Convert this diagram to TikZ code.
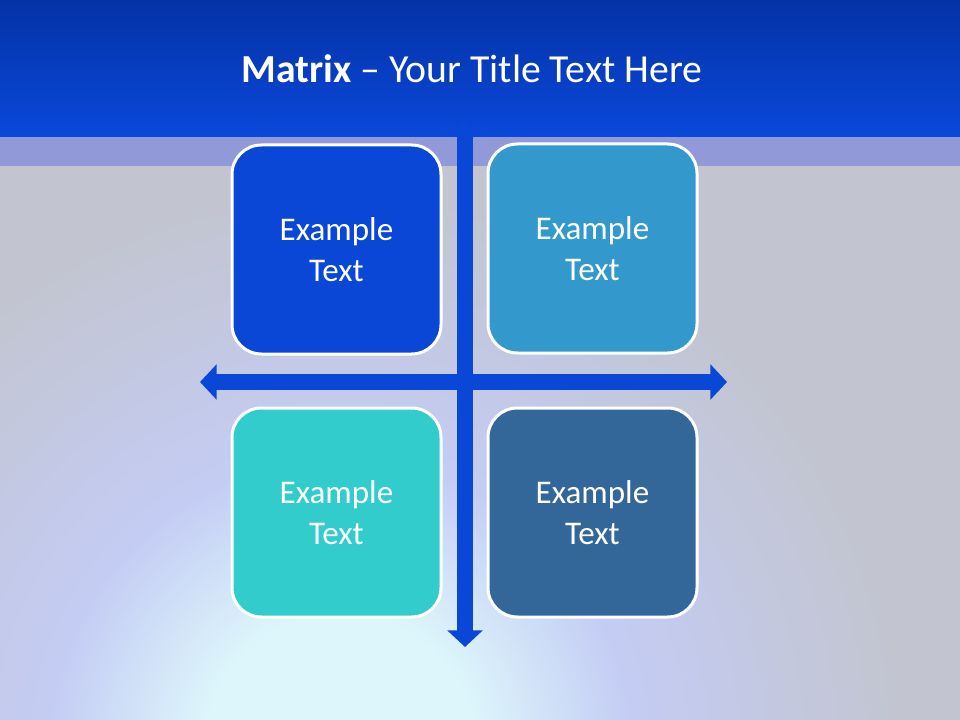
\documentclass[tikz,border=0pt]{standalone}
\usepackage{fontspec}
\setmainfont{Carlito}
\usetikzlibrary{arrows.meta}
\definecolor{hdtop}{HTML}{0432A6}
\definecolor{hdbot}{HTML}{0A48DA}
\definecolor{band}{HTML}{9199D9}
\definecolor{bggray}{HTML}{C2C5D0}
\definecolor{glowblue}{HTML}{C4CCF4}
\definecolor{glowcyan}{HTML}{DDF6FB}
\definecolor{arrowblue}{HTML}{0A47D6}
\definecolor{cTL}{HTML}{0A47D6}
\definecolor{cTR}{HTML}{3399CC}
\definecolor{cBL}{HTML}{33CCCC}
\definecolor{cBR}{HTML}{336699}
\pgfdeclareradialshading{glow}{\pgfpoint{0bp}{0bp}}{%
  color(0bp)=(glowcyan); color(6bp)=(glowcyan);
  color(13bp)=(glowblue); color(25bp)=(bggray); color(50bp)=(bggray)}
\tikzset{
  cell/.style={draw=white, line width=2.25pt, rounded corners=22pt,
    minimum width=156.75pt, minimum height=156.75pt, inner sep=0pt,
    text=white, font=\fontsize{24.8}{30.5}\selectfont, align=center},
  axis/.style={draw=arrowblue, line width=12pt,
    {Triangle[width=26pt,length=12.5pt]}-{Triangle[width=26pt,length=12.5pt]}}
}
\begin{document}
\begin{tikzpicture}[x=0.75pt,y=-0.75pt]
\useasboundingbox (0,0) rectangle (960,720);
% background
\fill[bggray] (0,0) rectangle (960,720);
\begin{scope}
\clip (0,166) rectangle (960,720);
\shade[shading=glow] (340,750) circle (560);
\end{scope}
% header
\shade[top color=hdtop, bottom color=hdbot] (0,0) rectangle (960,137);
\fill[band] (0,137) rectangle (960,166);
% title
\node[text=white, font=\fontsize{29.8}{36}\selectfont, anchor=base] (title) at (472,83)
  {\textbf{Matrix} – Your Title Text Here};
% axes
\coordinate (vt) at (465,120);
\coordinate (vb) at (465,647);
\coordinate (hl) at (200,382);
\coordinate (hr) at (727,382);
\draw[axis] (vt) -- (vb);
\draw[axis] (hl) -- (hr);
% cells
\node[cell, fill=cTL] (tl) at (336.5,249.5) {Example\\Text};
\node[cell, fill=cTR] (tr) at (592.5,248.5) {Example\\Text};
\node[cell, fill=cBL] (bl) at (336.5,512.5) {Example\\Text};
\node[cell, fill=cBR] (br) at (592.5,512.5) {Example\\Text};
\end{tikzpicture}
\end{document}
